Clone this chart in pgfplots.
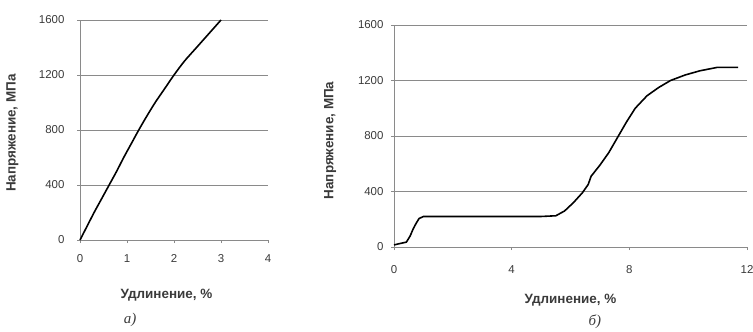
\documentclass[border=0pt]{standalone}
\usepackage{fontspec}
\setmainfont{Liberation Sans}
\newfontfamily\capfont{Liberation Serif}
\usepackage{pgfplots}
\pgfplotsset{compat=1.18}
\definecolor{txt}{HTML}{3A3A3A}
\definecolor{gridc}{HTML}{8A8A8A}
\pgfplotsset{
  common/.style={
    scale only axis,
    axis lines*=left,
    axis line style={-, draw=gridc, line width=0.8pt},
    every outer x axis line/.append style={-},
    every outer y axis line/.append style={-},
    ymin=0, ymax=1600, ytick={0,400,...,1600},
    ymajorgrids, grid style={gridc, line width=0.7pt},
    tick align=outside, major tick length=3bp,
    tick style={gridc, line width=0.6pt},
    xtick pos=bottom, ytick pos=left,
    ticklabel style={font=\fontsize{11.5}{12}\selectfont, text=txt},
    xticklabel style={yshift=-8bp},
    /pgf/number format/assume math mode=true,
    /pgf/number format/set thousands separator={},
    label style={font=\bfseries\fontsize{13.5}{14}\selectfont, text=txt},
    clip=false,
  }
}
\begin{document}
\begin{tikzpicture}[x=1bp,y=1bp]
\useasboundingbox (0,0) rectangle (753,331);
\begin{axis}[common,
  at={(80bp,91bp)}, anchor=south west,
  width=188bp, height=220bp,
  xmin=0, xmax=4, xtick={0,1,2,3,4},
  yticklabel style={xshift=-9bp},
  xlabel={Удлинение, \%}, ylabel={Напряжение, МПа},
  xlabel style={at={(axis description cs:0.46,-0.25)}, anchor=center},
  ylabel style={at={(axis description cs:-0.36,0.486)}, anchor=center, rotate=0},
]
\addplot[black, line width=1.6pt, smooth] coordinates {
(0,0) (0.15,100) (0.3,200) (0.46,300) (0.62,400) (0.78,500) (0.93,600)
(1.09,700) (1.25,800) (1.42,900) (1.6,1000) (1.8,1100) (2.0,1200)
(2.22,1300) (2.48,1400) (2.74,1500) (3.0,1600)};
\node[font=\capfont\itshape\fontsize{15}{16}\selectfont, text=txt] at (axis description cs:0.266,-0.364) {а)};
\end{axis}
\begin{axis}[common,
  at={(394bp,84bp)}, anchor=south west,
  width=353bp, height=222bp,
  xmin=0, xmax=12, xtick={0,4,8,12},
  yticklabel style={xshift=-4bp},
  xticklabel style={yshift=-4bp},
  xlabel={Удлинение, \%}, ylabel={Напряжение, МПа},
  xlabel style={at={(axis description cs:0.5,-0.239)}, anchor=center},
  ylabel style={at={(axis description cs:-0.181,0.48)}, anchor=center, rotate=0},
]
\addplot[black, line width=1.6pt] coordinates {
(0,15) (0.2,25) (0.42,35) (0.55,80) (0.65,130) (0.75,170) (0.85,205) (1.0,220)
(2,220) (3,220) (4,220) (5,220) (5.5,225) (5.8,260) (6.1,320) (6.4,390)
(6.6,450) (6.7,510) (7.0,590) (7.3,680) (7.6,790) (7.9,900) (8.2,1000)
(8.6,1090) (9.0,1150) (9.4,1200) (9.9,1240) (10.4,1270) (11.0,1295) (11.7,1295)};
\node[font=\capfont\itshape\fontsize{15}{16}\selectfont, text=txt] at (axis description cs:0.569,-0.338) {б)};
\end{axis}
\end{tikzpicture}
\end{document}
